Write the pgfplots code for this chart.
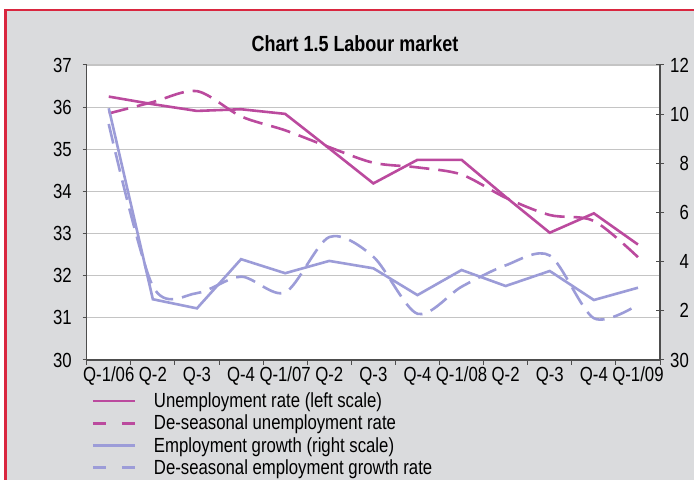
\documentclass[border=0pt]{standalone}
\usepackage{pgfplots}
\pgfplotsset{compat=1.18}
\usepackage{fontspec}
\setmainfont{Liberation Sans}[FakeStretch=0.82]
\definecolor{bggrey}{HTML}{DADBDD}
\definecolor{redc}{HTML}{D9263F}
\definecolor{magc}{HTML}{BB4A9E}
\definecolor{lavc}{HTML}{9C9CD8}
\definecolor{axc}{HTML}{4D4D4D}
\definecolor{gridc}{HTML}{C4C4C4}
\begin{document}
\begin{tikzpicture}[x=1bp,y=1bp]
\path[use as bounding box] (0,0) rectangle (694,480);
\fill[white] (0,0) rectangle (694,480);
\fill[bggrey] (5.5,0) rectangle (694,470);
\draw[redc, line width=2.8bp] (5.5,0) -- (5.5,470) -- (694,470);
\node[anchor=base, inner sep=0pt] at (355,428) {\fontsize{22}{24}\selectfont\bfseries Chart 1.5 Labour market};
\begin{axis}[
  at={(86.7bp,120bp)}, anchor=south west,
  width=573.3bp, height=295bp, scale only axis,
  axis background/.style={fill=white},
  xmin=-0.5, xmax=12.5, ymin=30, ymax=37,
  axis x line*=bottom, axis y line*=left,
  x axis line style={-, draw=axc, line width=1.2bp},
  y axis line style={-, draw=axc, line width=1.2bp},
  xtick={0,...,12},
  xticklabels={Q-1/06,Q-2,Q-3,Q-4,Q-1/07,Q-2,Q-3,Q-4,Q-1/08,Q-2,Q-3,Q-4,Q-1/09},
  major x tick style={draw=none},
  minor xtick={-0.5,0.5,...,12.5},
  minor tick length=5bp,
  minor x tick style={draw=axc, line width=1bp},
  ytick={30,...,37},
  ymajorgrids, major grid style={draw=gridc, line width=1.2bp},
  tick align=outside, major tick length=4bp,
  major y tick style={draw=axc, line width=1bp},
  tick label style={font=\fontsize{20.5}{22}\selectfont, inner sep=0pt},
  /pgf/number format/assume math mode=true,
  yticklabel style={anchor=east, xshift=-10.7bp},
  xticklabel style={anchor=base, yshift=-18bp},
  legend style={at={(0.0087,-0.1014)}, anchor=north west, draw=none, fill=none,
    inner sep=0pt, outer sep=0pt, row sep=0pt, column sep=17.7bp,
    font=\fontsize{20.5}{22}\selectfont,
    nodes={inner sep=0pt, text height=17.8bp, text depth=4.4bp}},
  legend cell align=left,
  legend image code/.code={\draw[#1] (0bp,0bp) -- (42bp,0bp);},
]
\addplot[forget plot, magc, line width=2.6bp] coordinates {
(0,36.25) (1,36.07) (2,35.91) (3,35.95) (4,35.84) (5,35.02) (6,34.19)
(7,34.75) (8,34.75) (9,33.87) (10,33.02) (11,33.48) (12,32.74)};
\addplot[forget plot, magc, line width=2.6bp, dash pattern=on 20bp off 9bp, smooth, tension=0.5] coordinates {
(0,35.85) (1,36.12) (2,36.38) (3,35.78) (4,35.45) (5,35.05) (6,34.68)
(7,34.57) (8,34.40) (9,33.85) (10,33.44) (11,33.30) (12,32.44)};
\addlegendimage{magc, line width=2.6bp}
\addlegendimage{magc, line width=2.6bp, dash pattern=on 13bp off 16bp}
\addlegendimage{lavc, line width=2.6bp}
\addlegendimage{lavc, line width=2.6bp, dash pattern=on 13bp off 16bp}
\legend{Unemployment rate (left scale),De-seasonal unemployment rate,Employment growth (right scale),De-seasonal employment growth rate}
\end{axis}
\begin{axis}[
  at={(86.7bp,120bp)}, anchor=south west,
  width=573.3bp, height=295bp, scale only axis,
  xmin=-0.5, xmax=12.5, ymin=0, ymax=12,
  axis x line=none, axis y line*=right,
  y axis line style={-, draw=axc, line width=1.2bp},
  ytick={0,2,...,12},
  yticklabels={30,2,4,6,8,10,12},
  tick align=center, major tick length=8bp,
  major y tick style={draw=axc, line width=1bp},
  tick label style={font=\fontsize{20.5}{22}\selectfont, inner sep=0pt},
  /pgf/number format/assume math mode=true,
  yticklabel style={anchor=east, xshift=25bp},
]
\addplot[lavc, line width=2.6bp] coordinates {
(0,10.24) (1,2.47) (2,2.10) (3,4.10) (4,3.53) (5,4.03) (6,3.73)
(7,2.64) (8,3.66) (9,3.01) (10,3.62) (11,2.44) (12,2.94)};
\addplot[lavc, line width=2.6bp, dash pattern=on 20bp off 9bp, smooth, tension=0.5] coordinates {
(0,9.60) (1,3.00) (2,2.72) (3,3.39) (4,2.75) (5,5.00) (6,4.20)
(7,1.88) (8,2.98) (9,3.85) (10,4.25) (11,1.70) (12,2.25)};
\end{axis}
\end{tikzpicture}
\end{document}
